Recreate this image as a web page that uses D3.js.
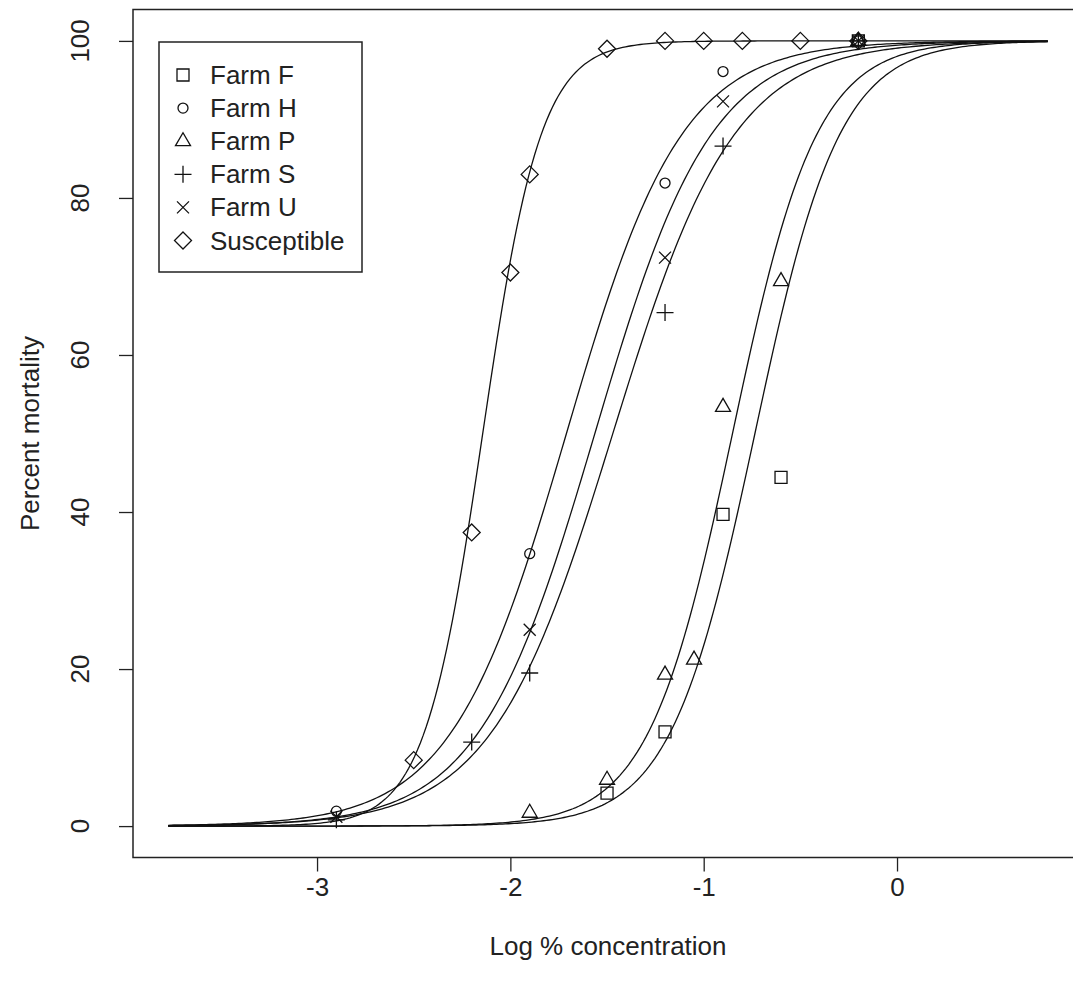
<!DOCTYPE html>
<html><head><meta charset="utf-8">
<script src="https://cdn.jsdelivr.net/npm/d3@7"></script>
<style>body{margin:0;background:#fff}svg{display:block}</style>
</head><body><svg id="c" width="1073" height="998"></svg>
<script>
// ---- data ----
const seriesNames = ["Farm F", "Farm H", "Farm P", "Farm S", "Farm U", "Susceptible"];
const seriesSymbols = ["square", "circle", "triangle", "plus", "cross", "diamond"];

const farmF_x = [-1.5, -1.2, -0.9, -0.6, -0.2];
const farmF_y = [4.2, 12.0, 39.7, 44.4, 100];
const farmH_x = [-2.9, -1.9, -1.2, -0.9, -0.2];
const farmH_y = [1.9, 34.7, 81.9, 96.1, 100];
const farmP_x = [-1.9, -1.5, -1.2, -1.05, -0.9, -0.6, -0.2];
const farmP_y = [1.7, 5.9, 19.3, 21.2, 53.4, 69.4, 100];
const farmS_x = [-2.9, -2.2, -1.9, -1.2, -0.9, -0.2];
const farmS_y = [0.8, 10.7, 19.5, 65.4, 86.6, 100];
const farmU_x = [-2.9, -1.9, -1.2, -0.9, -0.2];
const farmU_y = [1.2, 25.0, 72.4, 92.3, 100];
const susc_x = [-2.5, -2.2, -2.0, -1.9, -1.5, -1.2, -1.0, -0.8, -0.5, -0.2];
const susc_y = [8.4, 37.4, 70.5, 83.0, 99.0, 100, 100, 100, 100, 100];

// fitted logistic dose-response curves (LC50 on log scale, slope)
const fitLC50 = [-0.735, -1.710, -0.851, -1.470, -1.563, -2.143];
const fitSlope = [4.56, 3.35, 4.59, 3.18, 3.32, 6.61];
const curveRange = [-3.77, 0.78];

const xTicks = [-3, -2, -1, 0];
const yTicks = [0, 20, 40, 60, 80, 100];
const xTitle = "Log % concentration";
const yTitle = "Percent mortality";

// ---- build ----
const xs = [farmF_x, farmH_x, farmP_x, farmS_x, farmU_x, susc_x];
const ys = [farmF_y, farmH_y, farmP_y, farmS_y, farmU_y, susc_y];
const series = seriesNames.map((n, i) => ({
  name: n, sym: seriesSymbols[i], lc50: fitLC50[i], slope: fitSlope[i],
  pts: xs[i].map((x, j) => ({x, y: ys[i][j]}))
}));

const FONT = "'Liberation Sans', Arial, sans-serif";
const FS = 26;
const svg = d3.select("#c");
const ext = (a, b) => [a - 0.04 * (b - a), b + 0.04 * (b - a)];
const x = d3.scaleLinear().domain(ext(curveRange[0], curveRange[1])).range([133, 1083]);
const y = d3.scaleLinear().domain(ext(0, 100)).range([857.5, 9.5]);

// curves
const nStep = 300;
const line = d3.line().x(d => x(d[0])).y(d => y(d[1]));
series.forEach(s => {
  const pts = d3.range(nStep + 1).map(k => {
    const xv = curveRange[0] + (curveRange[1] - curveRange[0]) * k / nStep;
    return [xv, 100 / (1 + Math.exp(-s.slope * (xv - s.lc50)))];
  });
  svg.append("path").attr("d", line(pts)).attr("fill", "none")
    .attr("stroke", "#111").attr("stroke-width", 1.3);
});

function symPath(t) {
  switch (t) {
    case "square": return "M-6,-6H6V6H-6Z";
    case "circle": return "M5,0A5,5 0 1 1 -5,0A5,5 0 1 1 5,0Z";
    case "triangle": return "M0,-8.5L7.5,4.5H-7.5Z";
    case "plus": return "M-8.5,0H8.5M0,-8.5V8.5";
    case "cross": return "M-6,-6L6,6M-6,6L6,-6";
    case "diamond": return "M0,-8.5L8.5,0L0,8.5L-8.5,0Z";
  }
}

// points
series.forEach(s => {
  svg.append("g").selectAll("path").data(s.pts).join("path")
    .attr("transform", d => `translate(${x(d.x)},${y(d.y)})`)
    .attr("d", symPath(s.sym)).attr("fill", "none")
    .attr("stroke", "#111").attr("stroke-width", 1.3);
});

// box
const [x0, x1] = x.range(), [yb, yt] = y.range();
svg.append("rect").attr("x", x0).attr("y", yt).attr("width", x1 - x0).attr("height", yb - yt)
  .attr("fill", "none").attr("stroke", "#222").attr("stroke-width", 1.5);

// x axis
const gx = svg.append("g").attr("transform", `translate(0,${yb})`)
  .call(d3.axisBottom(x).tickValues(xTicks).tickSize(14).tickPadding(14).tickFormat(d => String(d)));
gx.select(".domain").remove();
gx.selectAll("line").attr("stroke", "#222").attr("stroke-width", 1.3);
gx.selectAll("text").attr("font-family", FONT).attr("font-size", FS).attr("fill", "#222")
  .attr("y", null).attr("dy", null).attr("transform", "translate(0,29)").attr("dominant-baseline", "central");

// y axis
const gy = svg.append("g").attr("transform", `translate(${x0},0)`)
  .call(d3.axisLeft(y).tickValues(yTicks).tickSize(14).tickFormat(""));
gy.select(".domain").remove();
gy.selectAll("line").attr("stroke", "#222").attr("stroke-width", 1.3);
svg.append("g").selectAll("text").data(yTicks).join("text")
  .attr("transform", d => `translate(80,${y(d)}) rotate(-90)`)
  .attr("text-anchor", "middle").attr("dominant-baseline", "central")
  .attr("font-family", FONT).attr("font-size", FS).attr("fill", "#222").text(d => d);

// titles
svg.append("text").attr("x", (x0 + x1) / 2).attr("y", 946).attr("text-anchor", "middle")
  .attr("dominant-baseline", "central").attr("font-family", FONT).attr("font-size", FS)
  .attr("fill", "#222").text(xTitle);
svg.append("text").attr("transform", `translate(30,${(yb + yt) / 2}) rotate(-90)`)
  .attr("text-anchor", "middle").attr("dominant-baseline", "central")
  .attr("font-family", FONT).attr("font-size", FS).attr("fill", "#222").text(yTitle);

// legend
const lg = svg.append("g");
lg.append("rect").attr("x", 159).attr("y", 42).attr("width", 203).attr("height", 230)
  .attr("fill", "#fff").attr("stroke", "#222").attr("stroke-width", 1.5);
series.forEach((s, i) => {
  const cy = 75 + i * 33.1;
  lg.append("path").attr("transform", `translate(183,${cy})`).attr("d", symPath(s.sym))
    .attr("fill", "none").attr("stroke", "#111").attr("stroke-width", 1.3);
  lg.append("text").attr("x", 210).attr("y", cy).attr("dominant-baseline", "central")
    .attr("font-family", FONT).attr("font-size", FS).attr("fill", "#222").text(s.name);
});
</script></body></html>
